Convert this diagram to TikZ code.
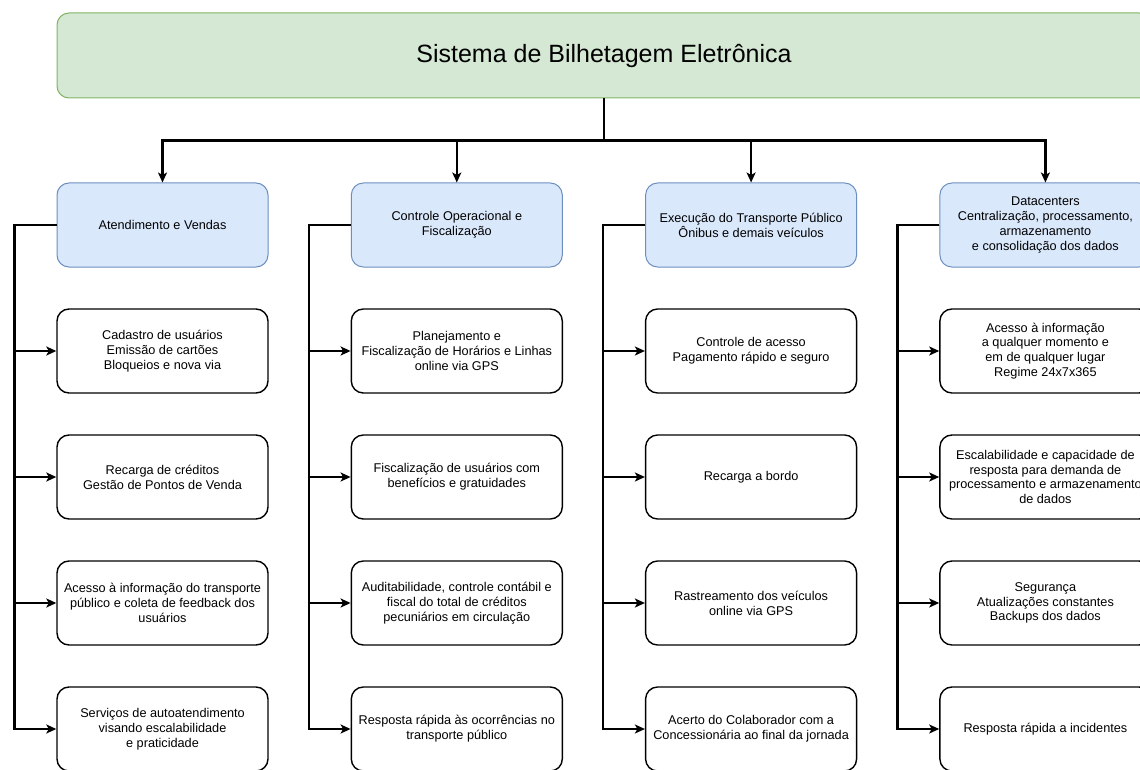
\documentclass[tikz,border=0pt]{standalone}
\usepackage{fontspec}
\setmainfont{Liberation Sans}
\usetikzlibrary{positioning,arrows.meta}
\definecolor{headfill}{HTML}{D5E8D4}
\definecolor{headdraw}{HTML}{82B366}
\definecolor{catfill}{HTML}{DAE8FC}
\definecolor{catdraw}{HTML}{6C8EBF}
\begin{document}
\begin{tikzpicture}[x=1pt, y=1pt,
  block/.style={rectangle, rounded corners=12pt, draw, line width=1.4pt, minimum width=211pt, minimum height=84pt, align=center, font=\fontsize{12.7}{14.8}\selectfont},
  catbox/.style={block, fill=catfill, draw=catdraw, line width=1pt},
  headbox/.style={rectangle, rounded corners=12pt, fill=headfill, draw=headdraw, line width=1pt, minimum width=1094pt, minimum height=85pt, font=\fontsize{25}{30}\selectfont},
  link/.style={-{Stealth[length=10pt,width=9pt,inset=2.5pt]}, line width=2.2pt},
  node distance=126pt
]
\useasboundingbox (0,0) rectangle (1140,-770);
\clip (0,0) rectangle (1140,-770);
\fill[white] (0,0) rectangle (1140,-770);

% Top
\node[headbox] (sys) at (604,-55.5) {Sistema de Bilhetagem Eletrônica};

% Areas
\node[catbox] (atend) at (162.5,-225) {Atendimento e Vendas};
\node[catbox, node distance=294.3pt, right of=atend] (ctrl) {Controle Operacional e\\Fiscalização};
\node[catbox, node distance=294.3pt, right of=ctrl] (exec) {Execução do Transporte Público\\Ônibus e demais veículos};
\node[catbox, node distance=294.3pt, right of=exec] (dc) {Datacenters\\Centralização, processamento,\\armazenamento\\e consolidação dos dados};

\draw[link] (sys.south) -- ++(0,-42) -| (atend.north);
\draw[link] (sys.south) -- ++(0,-42) -| (ctrl.north);
\draw[link] (sys.south) -- ++(0,-42) -| (exec.north);
\draw[link] (sys.south) -- ++(0,-42) -| (dc.north);

% Atendimento e Vendas
\node[block, below of=atend] (cad) {Cadastro de usuários\\Emissão de cartões\\Bloqueios e nova via};
\node[block, below of=cad] (rec) {Recarga de créditos\\Gestão de Pontos de Venda};
\node[block, below of=rec] (info) {Acesso à informação do transporte\\público e coleta de feedback dos\\usuários};
\node[block, below of=info] (auto) {Serviços de autoatendimento\\visando escalabilidade\\e praticidade};

% Controle Operacional
\node[block, below of=ctrl] (plan) {Planejamento e\\Fiscalização de Horários e Linhas\\online via GPS};
\node[block, below of=plan] (fisc) {Fiscalização de usuários com\\benefícios e gratuidades};
\node[block, below of=fisc] (audit) {Auditabilidade, controle contábil e\\fiscal do total de créditos\\pecuniários em circulação};
\node[block, below of=audit] (resp) {Resposta rápida às ocorrências no\\transporte público};

% Execucao do transporte
\node[block, below of=exec] (acesso) {Controle de acesso\\Pagamento rápido e seguro};
\node[block, below of=acesso] (bordo) {Recarga a bordo};
\node[block, below of=bordo] (gps) {Rastreamento dos veículos\\online via GPS};
\node[block, below of=gps] (acerto) {Acerto do Colaborador com a\\Concessionária ao final da jornada};

% Datacenters
\node[block, below of=dc] (disp) {Acesso à informação\\a qualquer momento e\\em de qualquer lugar\\Regime 24x7x365};
\node[block, below of=disp] (escal) {Escalabilidade e capacidade de\\resposta para demanda de\\processamento e armazenamento\\de dados};
\node[block, below of=escal] (seg) {Segurança\\Atualizações constantes\\Backups dos dados};
\node[block, below of=seg] (incid) {Resposta rápida a incidentes};

\draw[link] (atend.west) -- ++(-42,0) |- (cad.west);
\draw[link] (atend.west) -- ++(-42,0) |- (rec.west);
\draw[link] (atend.west) -- ++(-42,0) |- (info.west);
\draw[link] (atend.west) -- ++(-42,0) |- (auto.west);
\draw[link] (ctrl.west) -- ++(-42,0) |- (plan.west);
\draw[link] (ctrl.west) -- ++(-42,0) |- (fisc.west);
\draw[link] (ctrl.west) -- ++(-42,0) |- (audit.west);
\draw[link] (ctrl.west) -- ++(-42,0) |- (resp.west);
\draw[link] (exec.west) -- ++(-42,0) |- (acesso.west);
\draw[link] (exec.west) -- ++(-42,0) |- (bordo.west);
\draw[link] (exec.west) -- ++(-42,0) |- (gps.west);
\draw[link] (exec.west) -- ++(-42,0) |- (acerto.west);
\draw[link] (dc.west) -- ++(-42,0) |- (disp.west);
\draw[link] (dc.west) -- ++(-42,0) |- (escal.west);
\draw[link] (dc.west) -- ++(-42,0) |- (seg.west);
\draw[link] (dc.west) -- ++(-42,0) |- (incid.west);
\end{tikzpicture}
\end{document}
